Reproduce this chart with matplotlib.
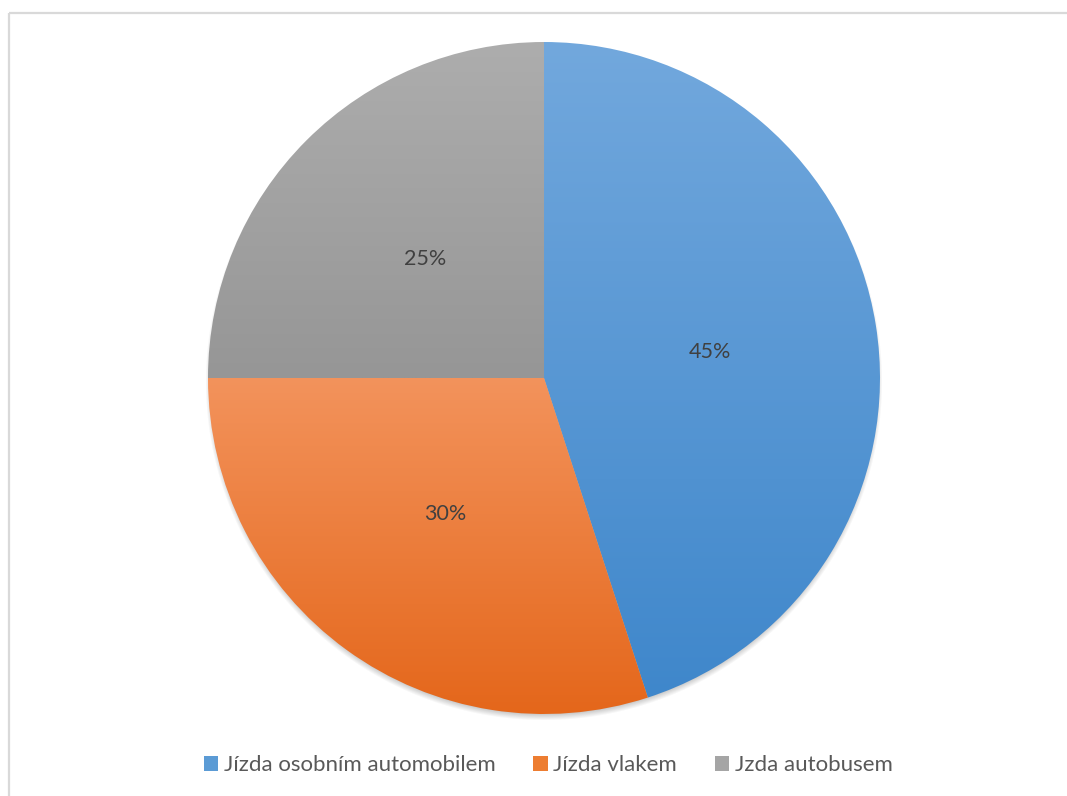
import numpy as np
import matplotlib
matplotlib.use("Agg")
import matplotlib.pyplot as plt
from matplotlib.patches import Patch
from matplotlib.colors import LinearSegmentedColormap

plt.rcParams['font.family'] = ['Lato', 'DejaVu Sans']

# Data
categories = ["Jízda osobním automobilem", "Jízda vlakem", "Jzda autobusem"]
shares = [45, 30, 25]
# (top colour, bottom colour) of each slice's vertical gradient
gradients = [("#72a8dd", "#3f87cb"), ("#f3935c", "#e4661a"), ("#adadad", "#969696")]
legend_colors = ["#5b9bd5", "#ed7d31", "#a5a5a5"]

W, H = 1067, 796
fig = plt.figure(figsize=(W / 100, H / 100), dpi=100)
ax = fig.add_axes([0, 0, 1, 1])
ax.set_xlim(0, W)
ax.set_ylim(0, H)
ax.set_aspect('equal')
ax.axis('off')

cx, cy, R = 544, H - 378, 336

# chart frame (left and top edges)
ax.plot([9, 9], [0, H - 13], color="#d9d9d9", lw=1.6, solid_capstyle='butt', zorder=1)
ax.plot([9, W], [H - 13, H - 13], color="#d9d9d9", lw=1.6, solid_capstyle='butt', zorder=1)

# soft drop shadow under the pie
pad = 30
xs = np.linspace(cx - R - pad, cx + R + pad, 2 * (R + pad))
ys = np.linspace(cy - R - pad, cy + R + pad, 2 * (R + pad))
X, Y = np.meshgrid(xs, ys)
d = np.hypot(X - cx, Y - (cy - 4))
a = np.clip((R + 3 - d) / 9.0, 0, 1) * 0.45
shadow = np.zeros(X.shape + (4,))
shadow[..., :3] = 0.35
shadow[..., 3] = a
ax.imshow(shadow, extent=(xs[0], xs[-1], ys[0], ys[-1]), origin='lower',
          zorder=2, interpolation='bilinear')

wedges, texts, autotexts = ax.pie(
    shares, center=(cx, cy), radius=R, startangle=90, counterclock=False,
    autopct='%d%%', pctdistance=0.5,
    textprops=dict(fontsize=15.5, color="#404040"),
    wedgeprops=dict(linewidth=0))
ax.set_xlim(0, W)
ax.set_ylim(0, H)

for w, (top, bot) in zip(wedges, gradients):
    w.set_facecolor('none')
    w.set_zorder(3)
    path = w.get_path()
    verts = path.vertices
    x0, x1 = verts[:, 0].min(), verts[:, 0].max()
    y0, y1 = verts[:, 1].min(), verts[:, 1].max()
    cmap = LinearSegmentedColormap.from_list("g", [bot, top])
    grad = np.linspace(0, 1, 256).reshape(-1, 1)
    im = ax.imshow(grad, extent=(x0, x1, y0, y1), origin='lower', cmap=cmap,
                   aspect='auto', zorder=3, interpolation='bilinear')
    im.set_clip_path(w)

for t in autotexts:
    t.set_zorder(5)

handles = [Patch(facecolor=c, edgecolor='none') for c in legend_colors]
fig.legend(handles, categories, loc='center', bbox_to_anchor=(548 / W, 1 - 765 / H),
           ncol=3, frameon=False, fontsize=16, labelcolor="#595959",
           handlelength=0.65, handleheight=0.65, handletextpad=0.25,
           columnspacing=1.7)

fig.savefig("out.png", dpi=100)
